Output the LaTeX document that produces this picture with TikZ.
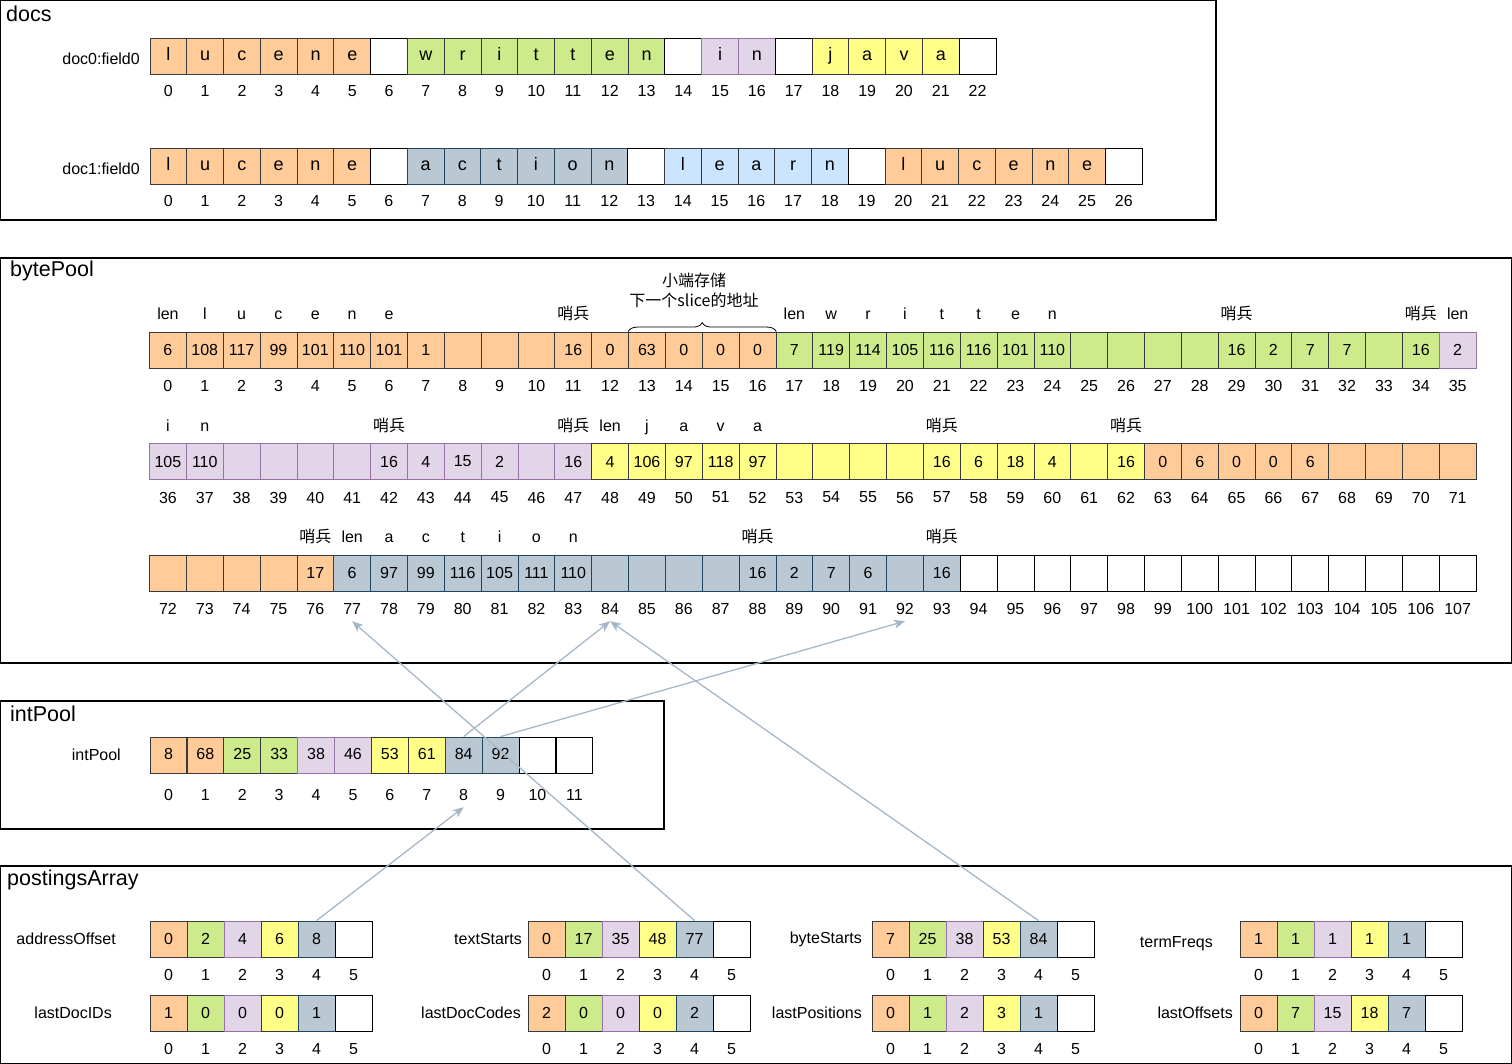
\documentclass[tikz,border=0pt]{standalone}
\usepackage{fontspec}
\setmainfont{Liberation Sans}
\newfontfamily\cjk{Noto Sans CJK SC}
\usetikzlibrary{positioning,arrows.meta,decorations.pathreplacing}
\definecolor{corfill}{HTML}{FFCC99}\definecolor{corline}{HTML}{36393D}
\definecolor{cgrfill}{HTML}{CDEB8B}\definecolor{cgrline}{HTML}{36393D}
\definecolor{cpufill}{HTML}{E1D5E7}\definecolor{cpuline}{HTML}{9673A6}
\definecolor{cyefill}{HTML}{FFFF88}\definecolor{cyeline}{HTML}{36393D}
\definecolor{cbgfill}{HTML}{BAC8D3}\definecolor{cbgline}{HTML}{23445D}
\definecolor{clbfill}{HTML}{CCE5FF}\definecolor{clbline}{HTML}{36393D}
\definecolor{cwhfill}{HTML}{FFFFFF}\definecolor{cwhline}{HTML}{000000}
\definecolor{ptrline}{HTML}{A5B7C8}
\newcommand\shaobing{{\cjk 哨兵}}
\begin{document}
\begin{tikzpicture}[x=1pt,y=-1pt,
    cell/.style={draw=#1line, fill=#1fill, line width=0.8pt, minimum width=36.85pt, minimum height=36pt,
      inner sep=0pt, text height=12pt, text depth=2.5pt, font=\fontsize{16}{18}\selectfont},
    val/.style={inner sep=0pt, font=\fontsize{16}{18}\selectfont},
    idx/.style={inner sep=0pt, minimum height=24pt, font=\fontsize{16}{18}\selectfont},
    tag/.style={inner sep=0pt, text height=12pt, text depth=3pt, font=\fontsize{16}{18}\selectfont},
    rowname/.style={anchor=east, inner sep=0pt, font=\fontsize{16}{18}\selectfont},
    boxtitle/.style={anchor=west, inner sep=0pt, font=\fontsize{21.5}{24}\selectfont},
    note/.style={align=center, inner sep=0pt, font=\cjk\fontsize{16}{20}\selectfont},
    frame/.style={draw=black, line width=1.2pt},
    ptr/.style={draw=ptrline, line width=1.3pt, -{Stealth[length=11pt,width=9pt,inset=3pt]}}]
\useasboundingbox (0,0) rectangle (1512,1064);

\draw[frame] (0.6,0.6) rectangle (1216,220);
\draw[frame] (0.6,258) rectangle (1511.4,663);
\draw[frame] (0.6,701) rectangle (664,829);
\draw[frame] (0.6,866) rectangle (1511.4,1063.4);
\node[boxtitle] (docs) at (6,14) {docs};
\node[boxtitle] (bytepool) at (10,271) {bytePool};
\node[boxtitle] (intpool) at (10,714) {intPool};
\node[boxtitle] (postings) at (7,880) {postingsArray};

\node[rowname] (doc0) at (140,59) {doc0:field0};
\node[rowname] (doc1) at (140,169) {doc1:field0};
\foreach \ch/\st [count=\i from 0] in {l/cor,u/cor,c/cor,e/cor,n/cor,e/cor,{}/cwh,w/cgr,r/cgr,i/cgr,t/cgr,t/cgr,e/cgr,n/cgr,{}/cwh,i/cpu,n/cpu,{}/cwh,j/cye,a/cye,v/cye,a/cye,{}/cwh} {
  \node[cell=\st, font=\fontsize{18}{20}\selectfont] (da\i) at ({150+36.78*(\i+.5)},56) {\ch};
  \node[idx] (dai\i) at ([yshift=-35pt]da\i.center) {\i};
}
\foreach \ch/\st [count=\i from 0] in {l/cor,u/cor,c/cor,e/cor,n/cor,e/cor,{}/cwh,a/cbg,c/cbg,t/cbg,i/cbg,o/cbg,n/cbg,{}/cwh,l/clb,e/clb,a/clb,r/clb,n/clb,{}/cwh,l/cor,u/cor,c/cor,e/cor,n/cor,e/cor,{}/cwh} {
  \node[cell=\st, font=\fontsize{18}{20}\selectfont] (db\i) at ({150+36.75*(\i+.5)},166) {\ch};
  \node[idx] (dbi\i) at ([yshift=-35pt]db\i.center) {\i};
}

\foreach \a/\b/\st in {0/16/cor,17/34/cgr,35/47/cpu,48/62/cye,63/76/cor,77/93/cbg,94/107/cwh}
  \foreach \i in {\a,...,\b} {
    \pgfmathtruncatemacro\brow{\i/36}
    \pgfmathtruncatemacro\bcol{\i-36*\brow}
    \node[cell=\st] (b\i) at ({149.5+36.85*(\bcol+.5)},{350+111.5*\brow}) {};
    \node[idx] (bi\i) at ([yshift=-36pt]b\i.center) {\i};
  }
\foreach \i/\v in {0/6,1/108,2/117,3/99,4/101,5/110,6/101,7/1,11/16,12/0,13/63,14/0,15/0,16/0,
    17/7,18/119,19/114,20/105,21/116,22/116,23/101,24/110,29/16,30/2,31/7,32/7,34/16,35/2,
    36/105,37/110,42/16,43/4,44/15,45/2,47/16,48/4,49/106,50/97,51/118,52/97,57/16,58/6,59/18,60/4,62/16,
    63/0,64/6,65/0,66/0,67/6,76/17,77/6,78/97,79/99,80/116,81/105,82/111,83/110,88/16,89/2,90/7,91/6,93/16}
  \node[val] (bv\i) at (b\i) {\v};
\foreach \i/\ch in {0/len,1/l,2/u,3/c,4/e,5/n,6/e,11/\shaobing,17/len,18/w,19/r,20/i,21/t,22/t,23/e,24/n,
    29/\shaobing,34/\shaobing,35/len,36/i,37/n,42/\shaobing,47/\shaobing,48/len,49/j,50/a,51/v,52/a,
    57/\shaobing,62/\shaobing,76/\shaobing,77/len,78/a,79/c,80/t,81/i,82/o,83/n,88/\shaobing,93/\shaobing}
  \node[tag] (bt\i) at ([yshift=35pt]b\i.center) {\ch};
\draw[decorate, decoration={brace, amplitude=9pt}, line width=0.8pt] (b13.north west) -- (b16.north east);
\node[note] (slicenote) at (694,290) {小端存储\\下一个slice的地址};

\node[rowname] (iplabel) at (121,755) {intPool};
\foreach \v/\st [count=\i from 0] in {8/cor,68/cor,25/cgr,33/cgr,38/cpu,46/cpu,53/cye,61/cye,84/cbg,92/cbg,{}/cwh,{}/cwh} {
  \node[cell=\st] (ip\i) at ({150+36.9*(\i+.5)},755) {\v};
  \node[idx] (ipi\i) at ([yshift=-40pt]ip\i.center) {\i};
}

\foreach \nm/\lab/\x/\y/\lx/\ly/\vals in {ao/addressOffset/150/939/116/939/{0,2,4,6,8},
    ld/lastDocIDs/150/1013/112/1013/{1,0,0,0,1},
    ts/textStarts/528/939/522/939/{0,17,35,48,77},
    dc/lastDocCodes/528/1013/521/1013/{2,0,0,0,2},
    bs/byteStarts/872/939/862/939/{7,25,38,53,84},
    lp/lastPositions/872/1013/862/1013/{0,1,2,3,1},
    tf/termFreqs/1240/939/1213/944/{1,1,1,1,1},
    lo/lastOffsets/1240/1013/1233/1013/{0,7,15,18,7}} {
  \node[rowname] (\nm) at (\lx,\ly) {\lab};
  \foreach \st [count=\i from 0] in {cor,cgr,cpu,cye,cbg,cwh} {
    \node[cell=\st, minimum width=37pt] (\nm\i) at ({\x+37*(\i+.5)},\y) {};
    \node[idx] (\nm i\i) at ([yshift=-36pt]\nm\i.center) {\i};
  }
  \foreach \v [count=\i from 0] in \vals
    \node[val] (\nm v\i) at (\nm\i) {\v};
}

\draw[ptr] (ao4.north) -- (ipi8.south);
\draw[ptr] (ts4.north) -- (bi77.south);
\draw[ptr] (bs4.north) -- (bi84.south);
\draw[ptr] (ip8.north) -- (bi84.south);
\draw[ptr] (ip9.north) -- (bi92.south);
\end{tikzpicture}
\end{document}
